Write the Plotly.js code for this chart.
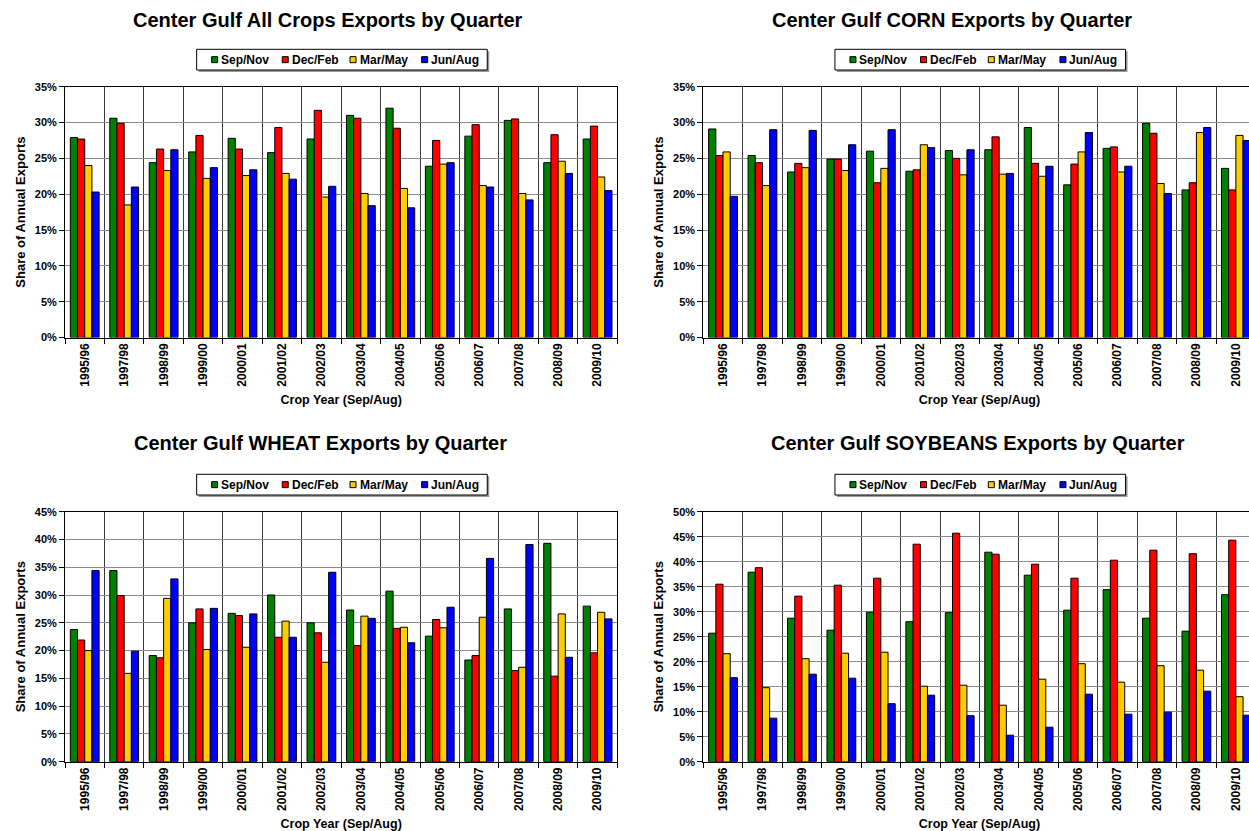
<!DOCTYPE html>
<html>
<head>
<meta charset="utf-8">
<script src="https://cdn.plot.ly/plotly-3.0.1.min.js"></script>
<style>
  html, body { margin: 0; padding: 0; overflow: hidden; background: #ffffff; }
  #chart { width: 1260px; height: 831px; }
</style>
</head>
<body>
<div id="chart"></div>
<script>
// Crop years (Sep/Aug); 1996/97 is not reported
const cropYears = ['1995/96', '1997/98', '1998/99', '1999/00', '2000/01', '2001/02', '2002/03',
                   '2003/04', '2004/05', '2005/06', '2006/07', '2007/08', '2008/09', '2009/10'];

const quarterNames = ['Sep/Nov', 'Dec/Feb', 'Mar/May', 'Jun/Aug'];
const quarterColors = ['#008000', '#FF0000', '#FFCC00', '#0000FF'];

// Share of annual exports (%) - all crops
const allSepNov = [27.9, 30.6, 24.4, 25.9, 27.8, 25.8, 27.7, 31.0, 32.0, 23.9, 28.1, 30.3, 24.4, 27.7];
const allDecFeb = [27.7, 29.9, 26.3, 28.2, 26.3, 29.3, 31.7, 30.6, 29.2, 27.5, 29.7, 30.5, 28.3, 29.5];
const allMarMay = [24.0, 18.5, 23.3, 22.2, 22.6, 22.9, 19.6, 20.1, 20.8, 24.2, 21.2, 20.1, 24.6, 22.4];
const allJunAug = [20.3, 21.0, 26.2, 23.7, 23.4, 22.1, 21.1, 18.4, 18.1, 24.4, 21.0, 19.2, 22.9, 20.5];

// Corn
const cornSepNov = [29.1, 25.4, 23.1, 24.9, 26.0, 23.2, 26.1, 26.2, 29.3, 21.3, 26.4, 29.9, 20.6, 23.6];
const cornDecFeb = [25.4, 24.4, 24.3, 24.9, 21.6, 23.4, 25.0, 28.0, 24.3, 24.2, 26.6, 28.5, 21.6, 20.6];
const cornMarMay = [25.9, 21.2, 23.7, 23.3, 23.6, 26.9, 22.7, 22.8, 22.5, 25.9, 23.1, 21.5, 28.6, 28.2];
const cornJunAug = [19.7, 29.0, 28.9, 26.9, 29.0, 26.5, 26.2, 22.9, 23.9, 28.6, 23.9, 20.1, 29.3, 27.5];

// Wheat
const wheatSepNov = [23.8, 34.4, 19.1, 25.0, 26.7, 30.0, 25.0, 27.3, 30.7, 22.6, 18.3, 27.5, 39.3, 28.0];
const wheatDecFeb = [21.9, 29.9, 18.7, 27.5, 26.3, 22.4, 23.2, 20.9, 24.0, 25.6, 19.1, 16.4, 15.4, 19.6];
const wheatMarMay = [20.0, 15.9, 29.4, 20.2, 20.6, 25.3, 17.9, 26.2, 24.2, 24.1, 26.0, 17.0, 26.6, 26.9];
const wheatJunAug = [34.4, 19.9, 32.9, 27.6, 26.6, 22.4, 34.1, 25.8, 21.4, 27.8, 36.6, 39.1, 18.8, 25.7];

// Soybeans
const soySepNov = [25.7, 37.9, 28.7, 26.3, 29.9, 28.0, 29.8, 41.9, 37.3, 30.3, 34.4, 28.7, 26.1, 33.4];
const soyDecFeb = [35.5, 38.8, 33.1, 35.3, 36.7, 43.5, 45.7, 41.5, 39.5, 36.7, 40.3, 42.3, 41.6, 44.3];
const soyMarMay = [21.6, 14.8, 20.6, 21.7, 21.9, 15.1, 15.3, 11.3, 16.5, 19.6, 15.9, 19.2, 18.3, 13.0];
const soyJunAug = [16.8, 8.7, 17.5, 16.7, 11.6, 13.3, 9.2, 5.3, 6.9, 13.5, 9.5, 9.9, 14.1, 9.3];

const panelTitles = [
  'Center Gulf All Crops Exports by Quarter',
  'Center Gulf CORN Exports by Quarter',
  'Center Gulf WHEAT Exports by Quarter',
  'Center Gulf SOYBEANS Exports by Quarter'
];
const panelSeries = [
  [allSepNov, allDecFeb, allMarMay, allJunAug],
  [cornSepNov, cornDecFeb, cornMarMay, cornJunAug],
  [wheatSepNov, wheatDecFeb, wheatMarMay, wheatJunAug],
  [soySepNov, soyDecFeb, soyMarMay, soyJunAug]
];
const panelYMax = [35, 35, 45, 50];

// ---- page geometry (pixels) ----
const W = 1260, H = 831;
const FONT = 'Liberation Sans, Arial, Helvetica, sans-serif';
const plotLeft   = [65, 703.3, 65, 703.3];
const plotRight  = [617.3, 1255.6, 617.3, 1255.6];
const plotTop    = [86.7, 86.7, 511.7, 511.7];
const plotBottom = [337.5, 337.5, 761.7, 761.7];
const titleX = [328, 952, 320, 978];
const titleY = [20, 20, 443, 443];

const px = v => v / W;          // horizontal pixel -> paper
const py = v => (H - v) / H;    // vertical pixel (from top) -> paper

const traces = [];
const layout = {
  width: W, height: H,
  margin: { l: 0, r: 0, t: 0, b: 0 },
  paper_bgcolor: '#ffffff',
  plot_bgcolor: '#ffffff',
  font: { family: FONT, color: '#000000', weight: 'bold' },
  barmode: 'group',
  bargap: 0.27,
  bargroupgap: 0,
  showlegend: false,
  shapes: [],
  annotations: []
};

panelSeries.forEach((series, p) => {
  const n = p === 0 ? '' : String(p + 1);
  const xa = 'x' + n, ya = 'y' + n;

  series.forEach((vals, q) => {
    traces.push({
      type: 'bar',
      x: cropYears,
      y: vals,
      name: quarterNames[q],
      xaxis: xa, yaxis: ya,
      marker: { color: quarterColors[q], line: { color: '#000000', width: 1 } },
      hovertemplate: '%{x}<br>' + quarterNames[q] + ': %{y:.1f}%<extra></extra>'
    });
  });

  layout['xaxis' + n] = {
    domain: [px(plotLeft[p]), px(plotRight[p])],
    anchor: ya,
    type: 'category',
    tickson: 'boundaries',
    ticks: 'outside', ticklen: 5, tickcolor: '#000000', tickwidth: 1,
    showgrid: true, gridcolor: '#3a3a3a', gridwidth: 1,
    showline: true, linecolor: '#000000', linewidth: 1, mirror: true,
    tickangle: -90,
    tickfont: { family: FONT, size: 12, color: '#000000', weight: 'bold' },
    title: { text: 'Crop Year (Sep/Aug)', standoff: 9,
             font: { family: FONT, size: 12.5, color: '#000000', weight: 'bold' } },
    fixedrange: true
  };
  layout['yaxis' + n] = {
    domain: [py(plotBottom[p]), py(plotTop[p])],
    anchor: xa,
    range: [0, panelYMax[p]],
    dtick: 5, tick0: 0,
    ticksuffix: '%',
    ticks: 'outside', ticklen: 5, tickcolor: '#000000', tickwidth: 1,
    showgrid: true, gridcolor: '#8c8c8c', gridwidth: 1,
    showline: true, linecolor: '#000000', linewidth: 1, mirror: true,
    zeroline: false,
    tickfont: { family: FONT, size: 11, color: '#000000', weight: 'bold' },
    title: { text: 'Share of Annual Exports', standoff: 6,
             font: { family: FONT, size: 13, color: '#000000', weight: 'bold' } },
    fixedrange: true
  };

  // panel heading
  layout.annotations.push({
    xref: 'paper', yref: 'paper', x: px(titleX[p]), y: py(titleY[p]),
    xanchor: 'center', yanchor: 'middle', showarrow: false,
    text: panelTitles[p],
    font: { family: FONT, size: 20, color: '#000000', weight: 'bold' }
  });

  // quarter key above each panel
  const cx = (plotLeft[p] + plotRight[p]) / 2;
  const boxTop = plotTop[p] - 37.4, boxBot = plotTop[p] - 16.7;
  const midY = (boxTop + boxBot) / 2;
  layout.shapes.push({
    type: 'rect', xref: 'paper', yref: 'paper', layer: 'above',
    x0: px(cx - 142.5), x1: px(cx + 148.1), y0: py(boxBot + 2), y1: py(boxTop + 2),
    fillcolor: '#9a9a9a', line: { width: 0 }
  });
  layout.shapes.push({
    type: 'rect', xref: 'paper', yref: 'paper', layer: 'above',
    x0: px(cx - 144.5), x1: px(cx + 146.1), y0: py(boxBot), y1: py(boxTop),
    fillcolor: '#ffffff', line: { color: '#000000', width: 1 }
  });
  const swatchLeft = [-129.5, -58.9, 8.85, 80.5];
  quarterNames.forEach((qn, q) => {
    const sx = cx + swatchLeft[q];
    layout.shapes.push({
      type: 'rect', xref: 'paper', yref: 'paper', layer: 'above',
      x0: px(sx), x1: px(sx + 6), y0: py(midY + 3), y1: py(midY - 3),
      fillcolor: quarterColors[q], line: { color: '#000000', width: 1 }
    });
    layout.annotations.push({
      xref: 'paper', yref: 'paper', x: px(sx + 7.5), y: py(midY),
      xanchor: 'left', yanchor: 'middle', showarrow: false,
      text: qn,
      font: { family: FONT, size: 12, color: '#000000', weight: 'bold' }
    });
  });
});

Plotly.newPlot('chart', traces, layout, { displayModeBar: false, staticPlot: false });
</script>
</body>
</html>
